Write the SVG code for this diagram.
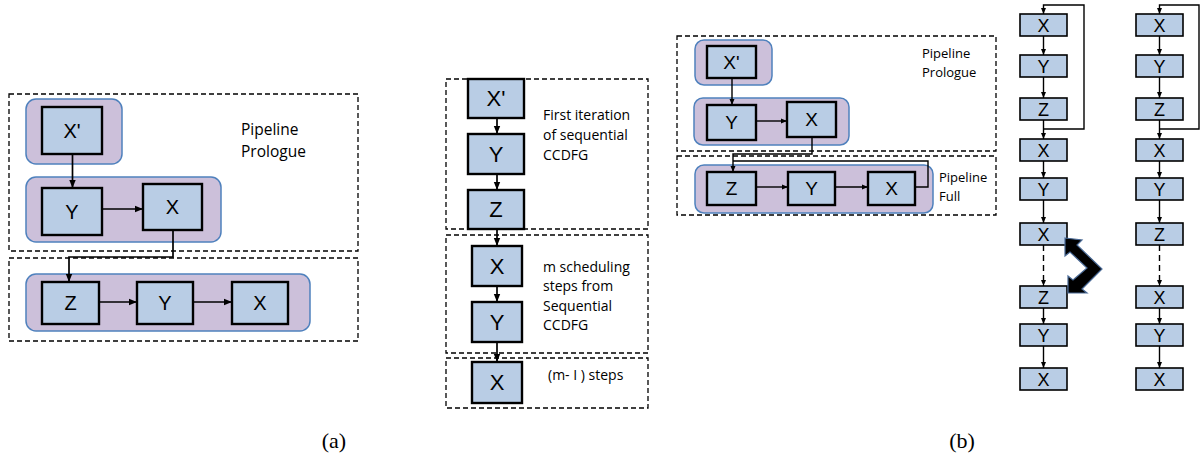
<svg xmlns="http://www.w3.org/2000/svg" width="1200" height="457" viewBox="0 0 1200 457">
<defs>
<marker id="ah" markerUnits="userSpaceOnUse" markerWidth="8" markerHeight="8" viewBox="0 0 8 8" refX="8" refY="4" orient="auto">
<path d="M0,0.8 L8,4 L0,7.2 Z" fill="#000"/>
</marker>
<marker id="ahs" markerUnits="userSpaceOnUse" markerWidth="6" markerHeight="6" viewBox="0 0 6 6" refX="6" refY="3" orient="auto">
<path d="M0,0.5 L6,3 L0,5.5 Z" fill="#000"/>
</marker>
</defs>
<style>
.dash{fill:none;stroke:#000;stroke-width:1.3;stroke-dasharray:5,3}
.grp{fill:#ccc0da;stroke:#4f81bd;stroke-width:1.5}
.bx{fill:#b9cde5;stroke:#000;stroke-width:2.4}
.bs{fill:#b9cde5;stroke:#000;stroke-width:1.6}
.lb{font-family:"Liberation Sans",Arial,sans-serif;font-size:20px;text-anchor:middle;fill:#000}
.ls{font-family:"Liberation Sans",Arial,sans-serif;font-size:18px;text-anchor:middle;fill:#000}
.tx{font-family:"Open Sans","Liberation Sans",sans-serif;font-size:14px;fill:#000}
.txs{font-family:"Open Sans","Liberation Sans",sans-serif;font-size:13px;fill:#000}
.cap{font-family:"Liberation Serif","Times New Roman",serif;font-size:22px;text-anchor:middle;fill:#000}
.ln{fill:none;stroke:#000;stroke-width:1.7}
.lt{fill:none;stroke:#000;stroke-width:1.4}
</style>
<rect width="1200" height="457" fill="#fff"/>

<!-- (a) left -->
<g id="a-left">
<rect class="dash" x="9" y="94" width="349" height="157"/>
<rect class="dash" x="9" y="258" width="349" height="83"/>
<text class="tx" x="241" y="135" style="font-size:15.5px">Pipeline</text>
<text class="tx" x="241" y="157" style="font-size:15.5px">Prologue</text>
</g>
<g id="a-g1"><rect class="grp" x="26" y="99" width="96" height="65" rx="10"/></g>
<g id="a-g2"><rect class="grp" x="26" y="177" width="195" height="65" rx="10"/></g>
<g id="a-g3"><rect class="grp" x="26" y="274" width="284" height="57" rx="10"/></g>
<g id="a-xp"><rect class="bx" x="42" y="107" width="60" height="47"/><text class="lb" x="72" y="138">X'</text></g>
<g id="a-y1"><rect class="bx" x="42" y="188" width="60" height="47"/><text class="lb" x="72" y="219">Y</text></g>
<g id="a-x1"><rect class="bx" x="143" y="184" width="59" height="46"/><text class="lb" x="172.5" y="214">X</text></g>
<g id="a-z"><rect class="bx" x="42" y="282" width="57" height="42"/><text class="lb" x="70.5" y="310">Z</text></g>
<g id="a-y2"><rect class="bx" x="137" y="282" width="56" height="42"/><text class="lb" x="165" y="310">Y</text></g>
<g id="a-x2"><rect class="bx" x="232" y="282" width="56" height="42"/><text class="lb" x="260" y="310">X</text></g>

<!-- middle -->
<g id="m-boxes">
<rect class="dash" x="446" y="79" width="202" height="150"/>
<rect class="dash" x="446" y="235" width="202" height="118"/>
<rect class="dash" x="446" y="358" width="202" height="50"/>
<text class="tx" x="543" y="120">First iteration</text>
<text class="tx" x="543" y="140">of sequential</text>
<text class="tx" x="543" y="160">CCDFG</text>
<text class="tx" x="543" y="272">m scheduling</text>
<text class="tx" x="543" y="291">steps from</text>
<text class="tx" x="543" y="311">Sequential</text>
<text class="tx" x="543" y="330">CCDFG</text>
<text class="tx" x="548" y="380">(m- I ) steps</text>
</g>
<g id="m-xp"><rect class="bx" x="468" y="79" width="56" height="39"/><text class="lb" x="496" y="106" style="font-size:22px">X'</text></g>
<g id="m-y1"><rect class="bx" x="468" y="134" width="56" height="40"/><text class="lb" x="496" y="162" style="font-size:22px">Y</text></g>
<g id="m-z"><rect class="bx" x="468" y="190" width="56" height="39"/><text class="lb" x="496" y="217" style="font-size:22px">Z</text></g>
<g id="m-x1"><rect class="bx" x="472" y="246" width="50" height="40"/><text class="lb" x="497" y="274" style="font-size:22px">X</text></g>
<g id="m-y2"><rect class="bx" x="472" y="302" width="50" height="40"/><text class="lb" x="497" y="330" style="font-size:22px">Y</text></g>
<g id="m-x2"><rect class="bx" x="472" y="362" width="50" height="41"/><text class="lb" x="497" y="390" style="font-size:22px">X</text></g>

<!-- (b) top -->
<g id="b-frame">
<rect class="dash" x="677" y="36" width="319" height="115"/>
<rect class="dash" x="677" y="156" width="319" height="59"/>
<text class="txs" x="922" y="58">Pipeline</text>
<text class="txs" x="922" y="77">Prologue</text>
<text class="txs" x="939" y="182">Pipeline</text>
<text class="txs" x="939" y="201">Full</text>
</g>
<g id="b-g1"><rect class="grp" x="695" y="40" width="77" height="45" rx="9"/></g>
<g id="b-g2"><rect class="grp" x="694" y="98" width="155" height="47" rx="9"/></g>
<g id="b-g3"><rect class="grp" x="695" y="165" width="238" height="48" rx="9"/></g>
<g id="b-xp"><rect class="bx" x="707" y="46" width="49" height="32"/><text class="lb" x="731.5" y="69" style="font-size:19px">X'</text></g>
<g id="b-y1"><rect class="bx" x="707" y="105" width="49" height="35"/><text class="lb" x="731.5" y="129" style="font-size:19px">Y</text></g>
<g id="b-x1"><rect class="bx" x="787" y="102" width="49" height="35"/><text class="lb" x="811.5" y="126" style="font-size:19px">X</text></g>
<g id="b-z"><rect class="bx" x="707" y="172" width="49" height="33"/><text class="lb" x="731.5" y="195" style="font-size:19px">Z</text></g>
<g id="b-y2"><rect class="bx" x="788" y="172" width="47" height="33"/><text class="lb" x="811.5" y="195" style="font-size:19px">Y</text></g>
<g id="b-x2"><rect class="bx" x="868" y="172" width="47" height="33"/><text class="lb" x="891.5" y="195" style="font-size:19px">X</text></g>

<!-- (b) columns -->
<g id="c1-0"><rect class="bs" x="1020" y="14" width="47" height="22"/><text class="ls" x="1043.5" y="32">X</text></g>
<g id="c1-1"><rect class="bs" x="1020" y="55" width="47" height="22"/><text class="ls" x="1043.5" y="73">Y</text></g>
<g id="c1-2"><rect class="bs" x="1020" y="98" width="47" height="22"/><text class="ls" x="1043.5" y="116">Z</text></g>
<g id="c1-3"><rect class="bs" x="1020" y="139" width="47" height="22"/><text class="ls" x="1043.5" y="157">X</text></g>
<g id="c1-4"><rect class="bs" x="1020" y="178" width="47" height="22"/><text class="ls" x="1043.5" y="196">Y</text></g>
<g id="c1-5"><rect class="bs" x="1020" y="223" width="47" height="22"/><text class="ls" x="1043.5" y="241">X</text></g>
<g id="c1-6"><rect class="bs" x="1020" y="286" width="47" height="22"/><text class="ls" x="1043.5" y="304">Z</text></g>
<g id="c1-7"><rect class="bs" x="1020" y="324" width="47" height="22"/><text class="ls" x="1043.5" y="342">Y</text></g>
<g id="c1-8"><rect class="bs" x="1020" y="368" width="47" height="22"/><text class="ls" x="1043.5" y="386">X</text></g>

<g id="c2-0"><rect class="bs" x="1136" y="14" width="47" height="22"/><text class="ls" x="1159.5" y="32">X</text></g>
<g id="c2-1"><rect class="bs" x="1136" y="55" width="47" height="22"/><text class="ls" x="1159.5" y="73">Y</text></g>
<g id="c2-2"><rect class="bs" x="1136" y="98" width="47" height="22"/><text class="ls" x="1159.5" y="116">Z</text></g>
<g id="c2-3"><rect class="bs" x="1136" y="139" width="47" height="22"/><text class="ls" x="1159.5" y="157">X</text></g>
<g id="c2-4"><rect class="bs" x="1136" y="178" width="47" height="22"/><text class="ls" x="1159.5" y="196">Y</text></g>
<g id="c2-5"><rect class="bs" x="1136" y="223" width="47" height="22"/><text class="ls" x="1159.5" y="241">Z</text></g>
<g id="c2-6"><rect class="bs" x="1136" y="286" width="47" height="22"/><text class="ls" x="1159.5" y="304">X</text></g>
<g id="c2-7"><rect class="bs" x="1136" y="324" width="47" height="22"/><text class="ls" x="1159.5" y="342">Y</text></g>
<g id="c2-8"><rect class="bs" x="1136" y="368" width="47" height="22"/><text class="ls" x="1159.5" y="386">X</text></g>

<g id="swap-arrow">
<polygon points="1065,238 1082,240 1077,245 1102,269 1082,289 1087,293 1068,293 1068,276 1073,280 1087,268 1070,252 1065,256" fill="#000" stroke="#4a6a96" stroke-width="1.2" stroke-linejoin="miter"/>
</g>

<g id="connectors">
<!-- (a) -->
<line class="ln" x1="72.5" y1="154" x2="72.5" y2="188" marker-end="url(#ah)"/>
<line class="ln" x1="102" y1="209" x2="143" y2="209" marker-end="url(#ah)"/>
<polyline class="ln" points="173,230 173,257 69,257 69,282" marker-end="url(#ah)"/>
<line class="ln" x1="99" y1="302" x2="137" y2="302" marker-end="url(#ah)"/>
<line class="ln" x1="193" y1="302" x2="232" y2="302" marker-end="url(#ah)"/>
<!-- middle -->
<line class="ln" x1="497" y1="118" x2="497" y2="134" marker-end="url(#ah)"/>
<line class="ln" x1="497" y1="174" x2="497" y2="190" marker-end="url(#ah)"/>
<line class="ln" x1="497" y1="229" x2="497" y2="246" marker-end="url(#ah)"/>
<line class="ln" x1="497" y1="342" x2="497" y2="362" marker-end="url(#ah)"/>
<line class="ln" x1="497" y1="286" x2="497" y2="302" marker-end="url(#ah)"/>
<!-- (b) top -->
<line class="lt" x1="732" y1="78" x2="732" y2="105" marker-end="url(#ahs)"/>
<line class="lt" x1="756" y1="121" x2="787" y2="121" marker-end="url(#ahs)"/>
<polyline class="lt" points="812,137 812,154 733,154 733,172" marker-end="url(#ahs)"/>
<polyline class="lt" points="915,187 928,187 928,161 733,161"/>
<line class="lt" x1="756" y1="187" x2="788" y2="187" marker-end="url(#ahs)"/>
<line class="lt" x1="835" y1="187" x2="868" y2="187" marker-end="url(#ahs)"/>
<!-- column 1 -->
<line class="lt" x1="1043.5" y1="36" x2="1043.5" y2="55" marker-end="url(#ahs)"/>
<line class="lt" x1="1043.5" y1="77" x2="1043.5" y2="98" marker-end="url(#ahs)"/>
<line class="lt" x1="1043.5" y1="120" x2="1043.5" y2="139" marker-end="url(#ahs)"/>
<line class="lt" x1="1043.5" y1="161" x2="1043.5" y2="178" marker-end="url(#ahs)"/>
<line class="lt" x1="1043.5" y1="200" x2="1043.5" y2="223" marker-end="url(#ahs)"/>
<line class="lt" x1="1043.5" y1="245" x2="1043.5" y2="286" stroke-dasharray="6,4" marker-end="url(#ahs)"/>
<line class="lt" x1="1043.5" y1="308" x2="1043.5" y2="324" marker-end="url(#ahs)"/>
<line class="lt" x1="1043.5" y1="346" x2="1043.5" y2="368" marker-end="url(#ahs)"/>
<polyline class="lt" points="1043.5,129 1084,129 1084,5 1043.5,5 1043.5,14" marker-end="url(#ahs)"/>
<!-- column 2 -->
<line class="lt" x1="1159.5" y1="36" x2="1159.5" y2="55" marker-end="url(#ahs)"/>
<line class="lt" x1="1159.5" y1="77" x2="1159.5" y2="98" marker-end="url(#ahs)"/>
<line class="lt" x1="1159.5" y1="120" x2="1159.5" y2="139" marker-end="url(#ahs)"/>
<line class="lt" x1="1159.5" y1="161" x2="1159.5" y2="178" marker-end="url(#ahs)"/>
<line class="lt" x1="1159.5" y1="200" x2="1159.5" y2="223" marker-end="url(#ahs)"/>
<line class="lt" x1="1159.5" y1="245" x2="1159.5" y2="286" stroke-dasharray="6,4" marker-end="url(#ahs)"/>
<line class="lt" x1="1159.5" y1="308" x2="1159.5" y2="324" marker-end="url(#ahs)"/>
<line class="lt" x1="1159.5" y1="346" x2="1159.5" y2="368" marker-end="url(#ahs)"/>
<polyline class="lt" points="1159.5,129 1199,129 1199,5 1159.5,5 1159.5,14" marker-end="url(#ahs)"/>
</g>

<g id="captions">
<text class="cap" x="334" y="448">(a)</text>
<text class="cap" x="962" y="448">(b)</text>
</g>
</svg>
